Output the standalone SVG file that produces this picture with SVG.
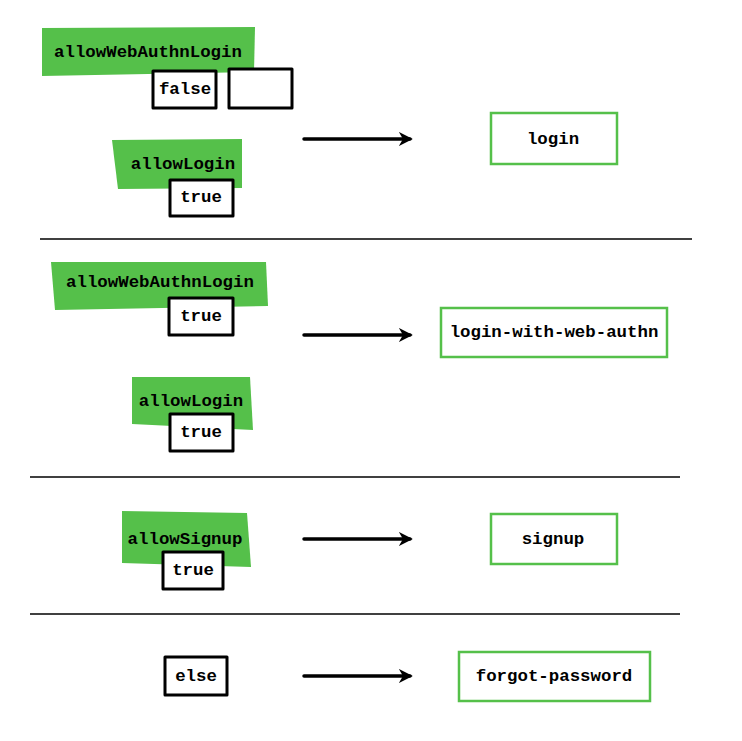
<svg xmlns="http://www.w3.org/2000/svg" width="742" height="741" viewBox="0 0 742 741">
<style>
.g{fill:#55c04a;stroke:none}
.b{fill:#fff;stroke:#000;stroke-width:3;stroke-linejoin:round}
.r{fill:#fff;stroke:#55c04a;stroke-width:2.5}
.t{font-family:"Liberation Mono",monospace;font-weight:bold;font-size:17.4px;fill:#000;text-anchor:middle;dominant-baseline:central}
.l{stroke:#000;stroke-width:1.5;fill:none}
.a{stroke:#000;stroke-width:3.5;fill:none;stroke-linecap:round}
</style>
<defs><marker id="m" viewBox="0 0 10 10" refX="8" refY="5" markerWidth="4" markerHeight="4" orient="auto"><path d="M0,0L10,5L0,10L3,5z" fill="#000"/></marker></defs>
<rect width="742" height="741" fill="#fff"/>
<g id="s1">
<polygon class="g" points="42,28 255,27 254,72 42,76"/>
<text class="t" x="148" y="52">allowWebAuthnLogin</text>
<rect class="b" x="153" y="71" width="63" height="37"/>
<text class="t" x="185" y="89">false</text>
<rect class="b" x="229" y="69" width="63" height="39"/>
<polygon class="g" points="112,140 242,139 242,188 118,189"/>
<text class="t" x="183" y="164">allowLogin</text>
<rect class="b" x="170" y="180" width="63" height="36"/>
<text class="t" x="201" y="197">true</text>
</g>
<g id="n-login"><rect class="r" x="491" y="113" width="126" height="51"/><text class="t" x="553" y="139">login</text></g>
<g id="s2">
<polygon class="g" points="51,262 266,262 268,306 55,310"/>
<text class="t" x="160" y="282">allowWebAuthnLogin</text>
<rect class="b" x="169" y="298" width="64" height="37"/>
<text class="t" x="201" y="316">true</text>
<polygon class="g" points="132,377 250,377 253,430 132,424"/>
<text class="t" x="191" y="401">allowLogin</text>
<rect class="b" x="170" y="414" width="63" height="37"/>
<text class="t" x="201" y="432">true</text>
</g>
<g id="n-webauthn"><rect class="r" x="441" y="308" width="226" height="49"/><text class="t" x="554" y="332">login-with-web-authn</text></g>
<g id="s3">
<polygon class="g" points="122,511 247,513 251,567 122,563"/>
<text class="t" x="185" y="539">allowSignup</text>
<rect class="b" x="163" y="552" width="60" height="37"/>
<text class="t" x="193" y="570">true</text>
</g>
<g id="n-signup"><rect class="r" x="491" y="514" width="126" height="50"/><text class="t" x="553" y="539">signup</text></g>
<g id="s4">
<rect class="b" x="165" y="657" width="62" height="38"/>
<text class="t" x="196" y="676">else</text>
</g>
<g id="n-forgot"><rect class="r" x="459" y="652" width="191" height="49"/><text class="t" x="554" y="676">forgot-password</text></g>
<g id="connectors">
<line class="a" x1="304" y1="139" x2="410" y2="139" marker-end="url(#m)"/>
<line class="a" x1="304" y1="335" x2="410" y2="335" marker-end="url(#m)"/>
<line class="a" x1="304" y1="539" x2="410" y2="539" marker-end="url(#m)"/>
<line class="a" x1="304" y1="676" x2="410" y2="676" marker-end="url(#m)"/>
<line class="l" x1="40" y1="239" x2="692" y2="239"/>
<line class="l" x1="30" y1="477" x2="680" y2="477"/>
<line class="l" x1="30" y1="614" x2="680" y2="614"/>
</g>
</svg>
